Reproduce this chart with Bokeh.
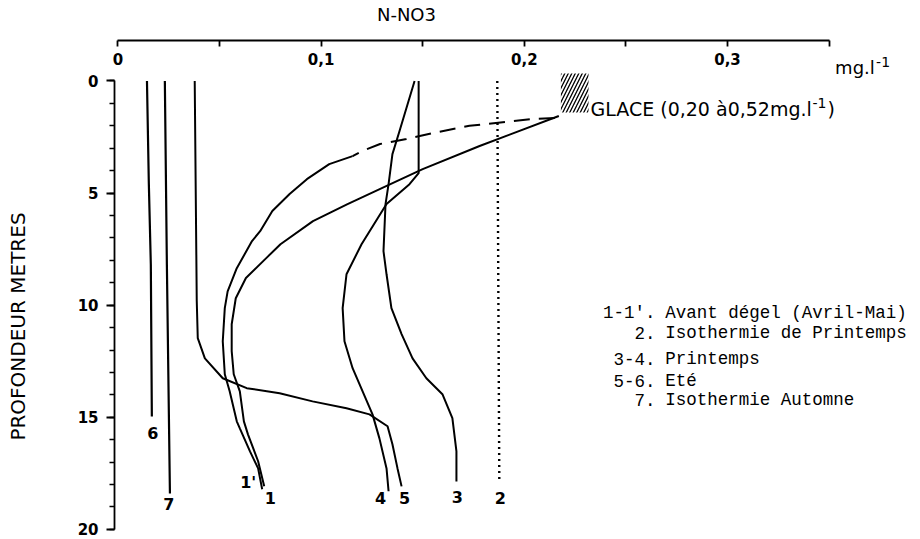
import math
from bokeh.plotting import figure
from bokeh.models import LinearAxis, FixedTicker, CustomJSTickFormatter, Range1d, ColumnDataSource
from bokeh.core.properties import value
from bokeh.embed import file_html
from bokeh.resources import INLINE

# ---------------- data (N-NO3 in mg/l, depth in m) ----------------
# 1 : Avant degel (solid, starting at the ice)
no3_1 = [0.217, 0.178, 0.150, 0.132, 0.113, 0.096, 0.080, 0.073, 0.063, 0.058,
         0.056, 0.056, 0.057, 0.060, 0.062, 0.064, 0.069, 0.072]
depth_1 = [1.56, 2.90, 3.93, 4.69, 5.49, 6.25, 7.28, 7.90, 8.79, 9.69,
           10.85, 12.05, 13.08, 13.84, 15.18, 15.76, 16.96, 18.08]
# 1' : Avant degel (dashed near the ice, then solid)
no3_1p = [0.215, 0.203, 0.173, 0.155, 0.142, 0.129, 0.120, 0.1155,
          0.104, 0.093, 0.0845, 0.076, 0.070, 0.066, 0.0585, 0.054, 0.0526,
          0.0516, 0.0526, 0.055, 0.0585, 0.060, 0.065, 0.069, 0.071]
depth_1p = [1.65, 1.70, 2.00, 2.32, 2.59, 2.81, 3.13, 3.35,
            3.71, 4.38, 5.04, 5.80, 6.70, 7.14, 8.35, 9.38, 10.13,
            11.61, 13.08, 13.84, 15.18, 15.49, 16.52, 17.28, 18.21]
n_dashed_1p = 8
# 2 : Isothermie de Printemps (dotted)
no3_2 = [0.1867, 0.1877]
depth_2 = [0.0, 17.9]
# 3 : Printemps
no3_3 = [0.146, 0.1386, 0.1351, 0.1332, 0.1317, 0.1307, 0.1322, 0.1346, 0.1396,
         0.1450, 0.1518, 0.1597, 0.1646, 0.1666, 0.1666]
depth_3 = [0.0, 2.23, 3.26, 4.60, 5.49, 7.59, 8.62, 10.13, 11.29,
           12.37, 13.26, 13.97, 15.04, 16.52, 17.86]
# 4 : Printemps
no3_4 = [0.148, 0.148, 0.1435, 0.1322, 0.1199, 0.1125, 0.1106, 0.1115, 0.1155,
         0.1253, 0.1287, 0.1322, 0.1332]
depth_4 = [0.0, 4.11, 4.60, 5.49, 7.28, 8.62, 10.13, 11.61, 12.81,
           14.87, 15.94, 17.28, 18.30]
# 5 : Ete
no3_5 = [0.0378, 0.0388, 0.0393, 0.0428, 0.0516, 0.0634, 0.0796, 0.0958, 0.1125,
         0.1238, 0.1327, 0.1351, 0.1376, 0.1396]
depth_5 = [0.0, 9.8, 11.47, 12.37, 13.26, 13.70, 13.93, 14.29, 14.60,
           14.87, 15.40, 16.20, 17.28, 18.08]
# 6 : Ete
no3_6 = [0.0143, 0.0152, 0.0162, 0.0167]
depth_6 = [0.0, 4.5, 8.2, 14.96]
# 7 : Isothermie Automne
no3_7 = [0.0231, 0.0241, 0.0256]
depth_7 = [0.0, 8.2, 18.4]

# ice block (GLACE)
glace_no3 = [0.218, 0.2316]
glace_depth = [-0.33, 1.40]

# axes ticks
x_major = [0.0, 0.1, 0.2, 0.3]
x_minor = [0.05, 0.15, 0.25, 0.35]
y_major = [0, 5, 10, 15, 20]
y_minor = list(range(0, 21))

legend_keys = ["1-1'.", "2.", "3-4.", "5-6.", "7."]
legend_texts = ["Avant dégel (Avril-Mai)", "Isothermie de Printemps", "Printemps",
                "Eté", "Isothermie Automne"]

# ---------------- figure ----------------
W, H = 920, 539
p = figure(width=W, height=H,
           x_range=Range1d(-0.05778, 0.39498), y_range=Range1d(20.4505, -3.5905),
           output_backend="svg", toolbar_location=None,
           x_axis_location=None, y_axis_location=None, min_border=0,
           outline_line_color=None, background_fill_color="white",
           border_fill_color="white")
p.xgrid.visible = False
p.ygrid.visible = False

FONT = "DejaVu Sans"

# top axis (labels under the line, ticks pointing down)
top_ax = LinearAxis(fixed_location=-1.806, bounds=(0, 0.35),
                    ticker=FixedTicker(ticks=x_major, minor_ticks=x_minor),
                    formatter=CustomJSTickFormatter(code="return tick == 0 ? '0' : tick.toFixed(1).replace('.', ',')"),
                    major_tick_in=0, major_tick_out=6, minor_tick_in=0, minor_tick_out=6,
                    major_label_standoff=6,
                    axis_line_width=1.8, major_tick_line_width=1.8, minor_tick_line_width=1.8,
                    major_label_text_font=FONT, major_label_text_font_size="15px",
                    major_label_text_font_style="bold",
                    major_label_text_color="black")
p.add_layout(top_ax, "below")

left_ax = LinearAxis(fixed_location=-0.00167, bounds=(0, 20),
                     ticker=FixedTicker(ticks=y_major, minor_ticks=y_minor),
                     major_tick_in=0, major_tick_out=8, minor_tick_in=0, minor_tick_out=5,
                     major_label_standoff=8,
                     axis_line_width=1.8, major_tick_line_width=1.8, minor_tick_line_width=1.5,
                     major_label_text_font=FONT, major_label_text_font_size="15px",
                     major_label_text_font_style="bold",
                     major_label_text_color="black")
p.add_layout(left_ax, "left")

# ---------------- curves ----------------
LW = 2.0
p.line(no3_1, depth_1, line_color="black", line_width=LW)
p.line(no3_1p[:n_dashed_1p], depth_1p[:n_dashed_1p], line_color="black", line_width=LW,
       line_dash="16 9")
p.line(no3_1p[n_dashed_1p - 1:], depth_1p[n_dashed_1p - 1:], line_color="black", line_width=LW)
p.line(no3_2, depth_2, line_color="black", line_width=2.4, line_dash="2 4")
p.line(no3_3, depth_3, line_color="black", line_width=LW)
p.line(no3_4, depth_4, line_color="black", line_width=LW)
p.line(no3_5, depth_5, line_color="black", line_width=LW)
p.line(no3_6, depth_6, line_color="black", line_width=2.2)
p.line(no3_7, depth_7, line_color="black", line_width=2.2)

# ice block
p.quad(left=[glace_no3[0]], right=[glace_no3[1]], top=[glace_depth[0]], bottom=[glace_depth[1]],
       fill_color="white", line_color=None, hatch_pattern="/", hatch_color="black",
       hatch_scale=7, hatch_weight=1.3)

# curve labels at the curve ends
ends = ColumnDataSource(dict(
    x=[no3_6[-1], no3_7[-1], no3_1p[-1], no3_1[-1], no3_4[-1], no3_5[-1], no3_3[-1], no3_2[-1]],
    y=[depth_6[-1], depth_7[-1], depth_1p[-1], depth_1[-1], depth_4[-1], depth_5[-1], depth_3[-1], depth_2[-1]],
    t=["6", "7", "1'", "1", "4", "5", "3", "2"],
    dx=[1, -1, -14, 6, -8, 3, 1, 1],
    dy=[17, 10, -7, 12, 7, 12, 16, 16],
))
p.text(x="x", y="y", text="t", x_offset="dx", y_offset="dy", source=ends,
       text_font=value(FONT), text_font_size="16px", text_font_style="bold",
       text_align="center", text_baseline="middle", text_color="black")

# GLACE annotation
gx, gy = glace_no3[1], glace_depth[1]
p.text(x=[gx], y=[gy], text=["GLACE (0,20 à0,52mg.l"], x_offset=2, y_offset=-3,
       text_font=value(FONT), text_font_size="19px", text_align="left",
       text_baseline="alphabetic", text_color="black")
p.text(x=[gx], y=[gy], text=["-1"], x_offset=224, y_offset=-9,
       text_font=value(FONT), text_font_size="14px", text_align="left",
       text_baseline="alphabetic", text_color="black")
p.text(x=[gx], y=[gy], text=[")"], x_offset=239, y_offset=-3,
       text_font=value(FONT), text_font_size="19px", text_align="left",
       text_baseline="alphabetic", text_color="black")

# unit at end of top axis
ux, uy = x_minor[-1], -1.806
p.text(x=[ux], y=[uy], text=["mg.l"], x_offset=6, y_offset=27,
       text_font=value(FONT), text_font_size="18px", text_align="left",
       text_baseline="alphabetic", text_color="black")
p.text(x=[ux], y=[uy], text=["-1"], x_offset=47, y_offset=21,
       text_font=value(FONT), text_font_size="14px", text_align="left",
       text_baseline="alphabetic", text_color="black")

# title N-NO3
p.text(x=[0.142], y=[-2.966], text=["N-NO3"],
       text_font=value(FONT), text_font_size="18px", text_align="center",
       text_baseline="middle", text_color="black")

# vertical axis title
p.text(x=[-0.0494], y=[10.95], text=["PROFONDEUR METRES"], angle=math.pi / 2,
       text_font=value(FONT), text_font_size="20px", text_align="center",
       text_baseline="middle", text_color="black")

# legend (typewriter style)
leg_y = [10.33, 11.26, 12.38, 13.36, 14.25]
p.text(x=[0.2646] * 5, y=leg_y, text=legend_keys,
       text_font=value("Liberation Mono"), text_font_size="17.5px", text_align="right",
       text_baseline="middle", text_color="black")
p.text(x=[0.2694] * 5, y=leg_y, text=legend_texts,
       text_font=value("Liberation Mono"), text_font_size="17.5px", text_align="left",
       text_baseline="middle", text_color="black")

open("out.html", "w").write(file_html(p, INLINE))
